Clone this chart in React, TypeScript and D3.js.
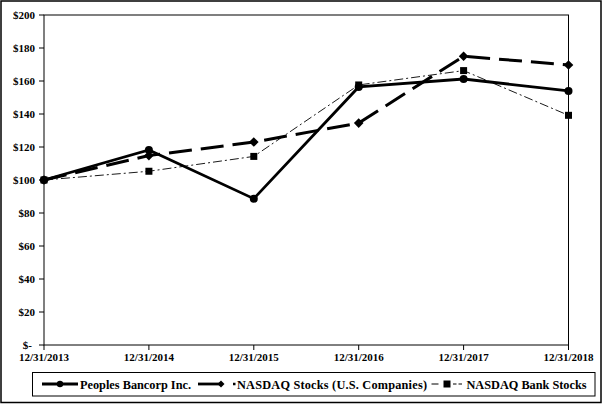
import React from "react";
import * as d3 from "d3";

const categories = ["12/31/2013", "12/31/2014", "12/31/2015", "12/31/2016", "12/31/2017", "12/31/2018"];
const peoples = [100, 118.2, 88.7, 156.4, 161.2, 154.0];
const nasdaq = [100, 114.8, 123.0, 134.5, 175.0, 169.7];
const bank = [100, 105.3, 114.3, 157.6, 166.3, 139.2];
const yTicks = [0, 20, 40, 60, 80, 100, 120, 140, 160, 180, 200];
const yTickLabels = ["$-", "$20", "$40", "$60", "$80", "$100", "$120", "$140", "$160", "$180", "$200"];
const legendLabels = ["Peoples Bancorp Inc.", "NASDAQ Stocks (U.S. Companies)", "NASDAQ Bank Stocks"];

const W = 607;
const H = 408;
const L = 44, R = 568.5, T = 15, B = 345;
const font = "'Liberation Serif', 'Times New Roman', serif";

export default function App() {
  const x = d3.scalePoint<string>().domain(categories).range([L, R]);
  const y = d3.scaleLinear().domain([0, 200]).range([B, T]);
  const line = d3
    .line<number>()
    .x((_, i) => x(categories[i]) as number)
    .y((d) => y(d));

  const diamond = (cx: number, cy: number, s: number) =>
    `M${cx},${cy - s}L${cx + s},${cy}L${cx},${cy + s}L${cx - s},${cy}Z`;

  return (
    <svg width={W} height={H} style={{ position: "absolute", left: 0, top: 0, background: "#fff" }}>
      <rect x={0} y={0} width={W} height={H} fill="#fff" />
      <rect x={1} y={1} width={600} height={401.5} fill="none" stroke="#000" strokeWidth={1.5} />
      {/* plot frame */}
      <rect x={L} y={T} width={R - L} height={B - T} fill="none" stroke="#000" strokeWidth={1} />
      {/* y ticks */}
      {yTicks.map((t, i) => (
        <g key={"y" + t}>
          <line x1={L - 5} x2={L} y1={y(t)} y2={y(t)} stroke="#000" strokeWidth={1} />
          <text
            x={t === 0 ? 32 : 35}
            y={y(t)}
            dy="0.35em"
            textAnchor="end"
            fontFamily={font}
            fontWeight="bold"
            fontSize={11}
            fill="#000"
          >
            {yTickLabels[i]}
          </text>
        </g>
      ))}
      {/* x ticks */}
      {categories.map((c) => (
        <g key={c}>
          <line x1={x(c)} x2={x(c)} y1={B} y2={B + 5} stroke="#000" strokeWidth={1} />
          <text
            x={x(c)}
            y={361}
            textAnchor="middle"
            fontFamily={font}
            fontWeight="bold"
            fontSize={11}
            fill="#000"
          >
            {c}
          </text>
        </g>
      ))}
      {/* bank series */}
      <path d={line(bank) || ""} fill="none" stroke="#000" strokeWidth={0.9} strokeDasharray="9,3,2,3" />
      {bank.map((v, i) => (
        <rect key={"b" + i} x={(x(categories[i]) as number) - 3.5} y={y(v) - 3.5} width={7} height={7} fill="#000" />
      ))}
      {/* nasdaq series */}
      <path d={line(nasdaq) || ""} fill="none" stroke="#000" strokeWidth={3} strokeDasharray="23,9" />
      {nasdaq.map((v, i) => (
        <path key={"n" + i} d={diamond(x(categories[i]) as number, y(v), 4.8)} fill="#000" />
      ))}
      {/* peoples series */}
      <path d={line(peoples) || ""} fill="none" stroke="#000" strokeWidth={2.8} />
      {peoples.map((v, i) => (
        <circle key={"p" + i} cx={x(categories[i]) as number} cy={y(v)} r={4} fill="#000" />
      ))}
      {/* legend */}
      <rect x={32.5} y={372.5} width={562.5} height={23.5} fill="#fff" stroke="#000" strokeWidth={1} />
      <line x1={42} x2={78} y1={384} y2={384} stroke="#000" strokeWidth={2.8} />
      <circle cx={60} cy={384} r={3.2} fill="#000" />
      <text x={80} y={388.5} fontFamily={font} fontWeight="bold" fontSize={12.3} fill="#000" textLength={111} lengthAdjust="spacing">
        {legendLabels[0]}
      </text>
      <line x1={198} x2={222} y1={384} y2={384} stroke="#000" strokeWidth={2.8} />
      <path d={diamond(221, 384, 3.5)} fill="#000" />
      <line x1={233} x2={235.5} y1={384} y2={384} stroke="#000" strokeWidth={2.5} />
      <text x={237} y={388.5} fontFamily={font} fontWeight="bold" fontSize={12.3} fill="#000" textLength={190} lengthAdjust="spacing">
        {legendLabels[1]}
      </text>
      <line x1={431.5} x2={438.5} y1={384} y2={384} stroke="#000" strokeWidth={1} />
      <rect x={443.5} y={380.5} width={7} height={7} fill="#000" />
      <line x1={453} x2={456.5} y1={384} y2={384} stroke="#000" strokeWidth={1} />
      <line x1={458.5} x2={462} y1={384} y2={384} stroke="#000" strokeWidth={1} />
      <text x={466.5} y={388.5} fontFamily={font} fontWeight="bold" fontSize={12.3} fill="#000" textLength={120} lengthAdjust="spacing">
        {legendLabels[2]}
      </text>
    </svg>
  );
}
